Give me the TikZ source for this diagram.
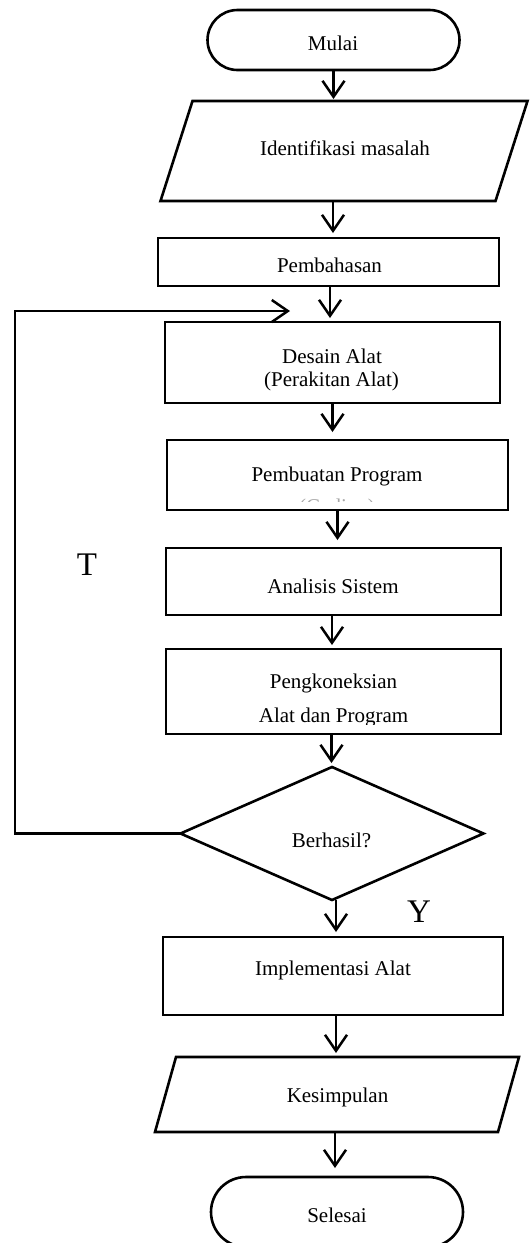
\documentclass[tikz,border=0pt]{standalone}
\usepackage{fontspec}
\setmainfont{Liberation Serif}
\usetikzlibrary{arrows.meta,shapes.geometric,shapes.misc}
\begin{document}
\begin{tikzpicture}[x=1pt,y=-1pt,
  outline/.style={draw=black,line width=2.6pt,line join=miter},
  plain/.style={draw=none,inner sep=0pt,outer sep=0pt},
  box/.style={outline,rectangle,inner sep=0pt,outer sep=0pt},
  term/.style={outline,rounded rectangle,inner sep=0pt,outer sep=0pt,minimum width=252pt},
  decision/.style={outline,diamond,inner sep=0pt,outer sep=0pt},
  txt/.style={inner sep=0pt,anchor=base,font=\fontsize{21}{25}\selectfont},
  big/.style={inner sep=0pt,anchor=base,font=\fontsize{33}{38}\selectfont},
  arr/.style={line width=2.5pt,-{Straight Barb[length=16pt,width=22pt]}},
]
\useasboundingbox (0,0) rectangle (531,1243);

% start / end terminators
\node[term,minimum height=60pt] (mulai) at (333.5,40) {};
\node[term,minimum height=70pt] (selesai) at (337,1212) {};

% input / output parallelograms (frame node + slanted outline)
\node[plain,minimum width=335pt,minimum height=100pt] (idm) at (344,151) {};
\draw[outline] ([xshift=16pt]idm.north west) -- ([xshift=16pt]idm.north east)
  -- ([xshift=-16pt]idm.south east) -- ([xshift=-16pt]idm.south west) -- cycle;
\node[plain,minimum width=343pt,minimum height=75pt] (kes) at (337,1094.5) {};
\draw[outline] ([xshift=10.5pt]kes.north west) -- ([xshift=10.5pt]kes.north east)
  -- ([xshift=-10.5pt]kes.south east) -- ([xshift=-10.5pt]kes.south west) -- cycle;

% process boxes
\node[box,minimum width=341pt,minimum height=48pt] (pbh) at (328.5,262) {};
\node[box,minimum width=335pt,minimum height=81pt] (des) at (332.5,362.5) {};
\node[box,minimum width=341pt,minimum height=70pt] (prg) at (337.5,475) {};
\node[box,minimum width=335pt,minimum height=67pt] (ana) at (333.5,581.5) {};
\node[box,minimum width=335pt,minimum height=85pt] (kon) at (333.5,691.5) {};
\node[box,minimum width=340pt,minimum height=78pt] (imp) at (333,976) {};

% decision
\node[decision,minimum width=303pt,minimum height=133pt] (dec) at (332,833.5) {};

% texts
\node[txt] (tmulai) at (333,50) {Mulai};
\node[txt] (tidm) at (345,155) {Identifikasi masalah};
\node[txt] (tpbh) at (329.5,272) {Pembahasan};
\node[txt] (tdes1) at (332,363) {Desain Alat};
\node[txt] (tdes2) at (331.5,386) {(Perakitan Alat)};
\node[txt] (tprg) at (337,481) {Pembuatan Program};
\begin{scope}
  \clip (167,440) rectangle (508,501);
  \node[txt,text=black!35] (tcod) at (337,513) {(Coding)};
\end{scope}
\node[txt] (tana) at (333,593) {Analisis Sistem};
\node[txt] (tkon1) at (333.5,688) {Pengkoneksian};
\begin{scope}
  \clip (166,649) rectangle (501,724);
  \node[txt] (tkon2) at (333.5,722) {Alat dan Program};
\end{scope}
\node[txt] (tdec) at (331.5,847) {Berhasil?};
\node[txt] (timp) at (333,975) {Implementasi Alat};
\node[txt] (tkes) at (337.5,1102) {Kesimpulan};
\node[txt] (tsel) at (337,1222) {Selesai};
\node[big] (tno) at (87,575) {T};
\node[big] (tyes) at (419,922) {Y};

% main flow
\draw[arr,shorten >=2pt] (mulai.south) -- (mulai.south |- idm.north);
\draw[arr,shorten >=5pt] ([xshift=-11pt]idm.south) -- ([xshift=-11pt]idm.south |- pbh.north);
\draw[arr,shorten >=4pt] ([xshift=1.5pt]pbh.south) -- ([xshift=1.5pt]pbh.south |- des.north);
\draw[arr,shorten >=8pt] (des.south) -- (des.south |- prg.north);
\draw[arr,shorten >=8pt] (prg.south) -- (prg.south |- ana.north);
\draw[arr,shorten >=4pt] ([xshift=-1.5pt]ana.south) -- ([xshift=-1.5pt]ana.south |- kon.north);
\draw[arr,shorten >=4pt] ([xshift=-2pt]kon.south) -- ([xshift=-2pt]kon.south |- dec.north);
\draw[arr,shorten >=5pt] ([xshift=4pt]dec.south) -- ([xshift=4pt]dec.south |- imp.north);
\draw[arr,shorten >=4pt] ([xshift=3pt]imp.south) -- ([xshift=3pt]imp.south |- kes.north);
\draw[arr,shorten >=9pt] ([xshift=-2pt]kes.south) -- ([xshift=-2pt]kes.south |- selesai.north);

% loop back when the check fails
\coordinate (lp) at (15,311);
\coordinate (fbk) at (290,311);
\draw[arr,line join=miter] (dec.west) -| (lp) -- (fbk);
\end{tikzpicture}
\end{document}
